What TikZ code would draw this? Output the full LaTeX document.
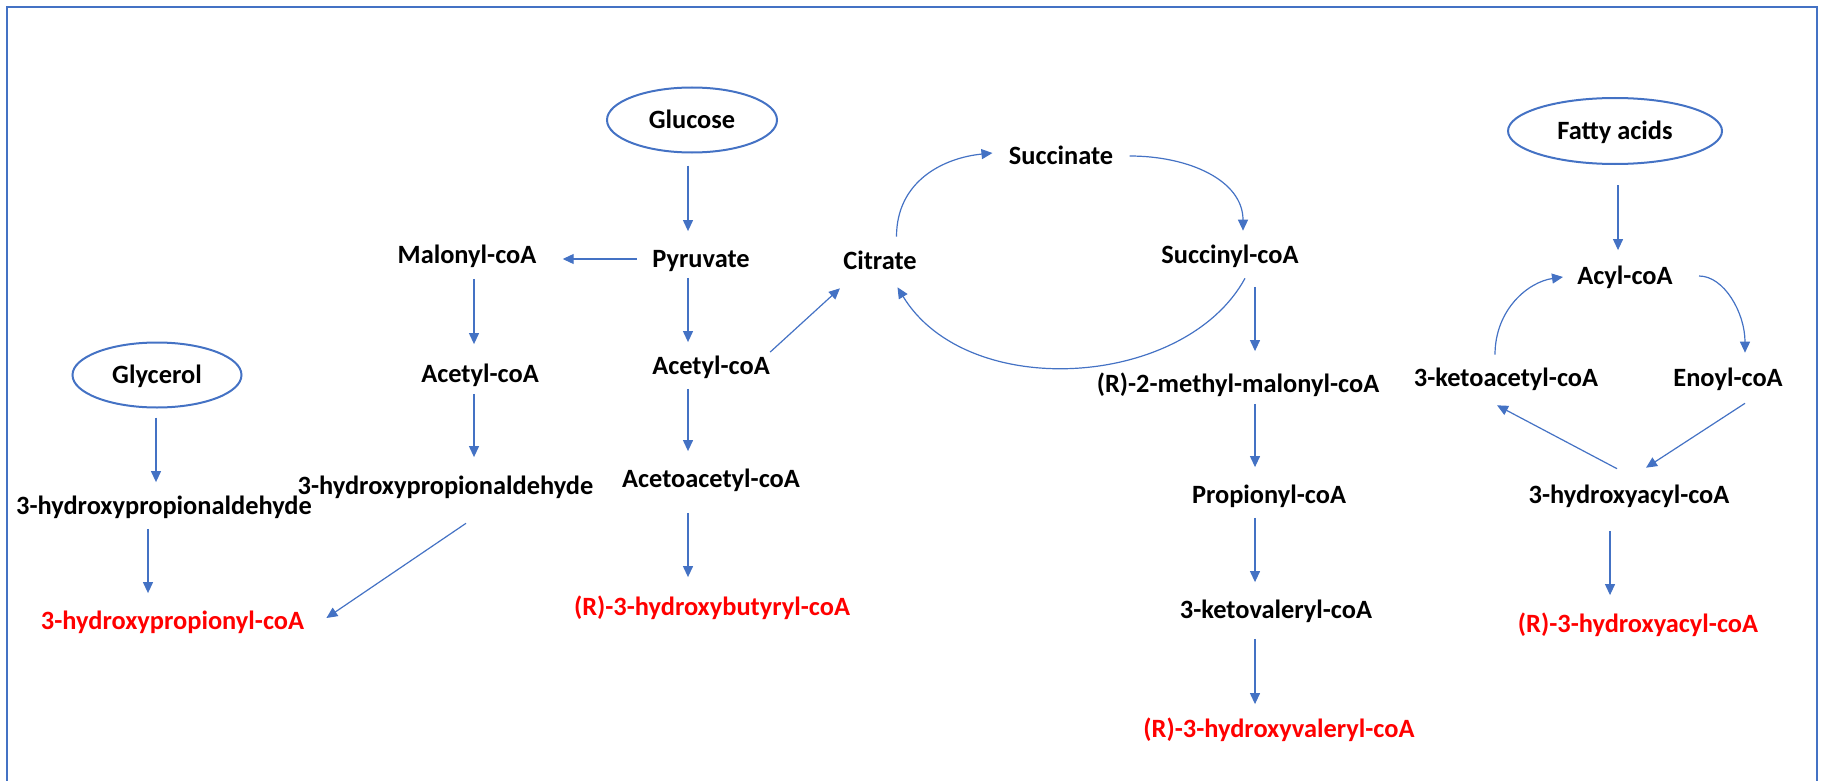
\documentclass[tikz,border=0pt]{standalone}
\usepackage{fontspec}
\setmainfont{Carlito}
\usetikzlibrary{arrows.meta,shapes.geometric,calc}
\definecolor{flowblue}{HTML}{4472C4}
\definecolor{prodred}{HTML}{FF0000}
\tikzset{
  metab/.style={font=\bfseries\fontsize{13.2}{16}\selectfont, inner sep=0pt, text height=11pt, text depth=2.5pt},
  product/.style={metab, text=prodred},
  source/.style={metab, ellipse, draw=flowblue, line width=1pt},
  flow/.style={draw=flowblue, line width=0.6pt, -{Triangle[length=5.5pt,width=5pt]}},
  vflow/.style={flow, shorten <=4.5pt, shorten >=7pt},
}
\begin{document}
\begin{tikzpicture}[x=0.5pt,y=0.5pt,yscale=-1,xscale=1]
\useasboundingbox (0,0) rectangle (1825,781);
%Frame
\draw [flowblue, line width=1pt] (7,800) -- (7,7) -- (1817,7) -- (1817,800);

%Columns of the vertical arrows
\coordinate (colA) at (688,0);
\coordinate (colB) at (474,0);
\coordinate (colG) at (156,0);
\coordinate (colH) at (148,0);
\coordinate (colR) at (1255,0);
\coordinate (colF) at (1618,0);
\coordinate (colK) at (1610,0);

%Shape: Ellipse
\node [source, minimum width=85pt, minimum height=32.5pt] (glucose) at (692,120) {Glucose};
\node [source, minimum width=84.5pt, minimum height=32.5pt] (glycerol) at (157,375) {Glycerol};
\node [source, minimum width=107pt, minimum height=33pt] (fatty) at (1615,131) {Fatty acids};

% Text Node
\node [metab] (pyruvate) at (701,259) {Pyruvate};
\node [metab] (malonyl) at (467,255) {Malonyl-coA};
\node [metab] (acetylL) at (480,374) {Acetyl-coA};
\node [metab] (aldM) at (445.5,486) {3-hydroxypropionaldehyde};
\node [metab] (aldL) at (164,506) {3-hydroxypropionaldehyde};
\node [product] (hpcoa) at (172.5,621) {3-hydroxypropionyl-coA};
\node [metab] (acetylM) at (711,366) {Acetyl-coA};
\node [metab] (acetoacetyl) at (711,479) {Acetoacetyl-coA};
\node [product] (hbcoa) at (712,607) {(R)-3-hydroxybutyryl-coA};
\node [metab] (citrate) at (880,261) {Citrate};
\node [metab] (succinate) at (1061,156) {Succinate};
\node [metab] (succinyl) at (1230,255) {Succinyl-coA};
\node [metab] (methylmal) at (1238,384) {(R)-2-methyl-malonyl-coA};
\node [metab] (propionyl) at (1269,495) {Propionyl-coA};
\node [metab] (ketoval) at (1276,610) {3-ketovaleryl-coA};
\node [product] (hvcoa) at (1279,729) {(R)-3-hydroxyvaleryl-coA};
\node [metab] (acyl) at (1625,276) {Acyl-coA};
\node [metab] (enoyl) at (1728,378) {Enoyl-coA};
\node [metab] (ketoacetyl) at (1506,378) {3-ketoacetyl-coA};
\node [metab] (hacyl) at (1629,495) {3-hydroxyacyl-coA};
\node [product] (rhacyl) at (1638,624) {(R)-3-hydroxyacyl-coA};

%Straight Lines
\draw [vflow, shorten <=6pt] (glucose.south -| colA) -- (pyruvate.north -| colA);
\draw [vflow, shorten <=2.5pt, shorten >=5pt] (pyruvate.south -| colA) -- (acetylM.north -| colA);
\draw [vflow] (acetylM.south -| colA) -- (acetoacetyl.north -| colA);
\draw [vflow, shorten <=10pt, shorten >=8pt] (acetoacetyl.south -| colA) -- (hbcoa.north -| colA);
\draw [flow, shorten <=7.5pt, shorten >=13pt] (pyruvate.west) -- (pyruvate.west -| malonyl.east);
\draw [vflow, shorten <=5pt, shorten >=8pt] (malonyl.south -| colB) -- (acetylL.north -| colB);
\draw [vflow, shorten <=3pt, shorten >=7.5pt] (acetylL.south -| colB) -- (aldM.north -| colB);
\draw [flow] ($(aldM.south)+(20.5,23.4)$) -- ($(hpcoa.east)+(22,-3)$);
\draw [vflow, shorten >=5pt] (glycerol.south -| colG) -- (aldL.north -| colG);
\draw [vflow] (aldL.south -| colH) -- (hpcoa.north -| colH);
\draw [flow] (acetylM.north east) -- ($(citrate.south west)+(-3,13.4)$);
\draw [vflow, shorten <=9pt, shorten >=9.5pt] (succinyl.south -| colR) -- (methylmal.north -| colR);
\draw [vflow, shorten <=3pt] (methylmal.south -| colR) -- (propionyl.north -| colR);
\draw [vflow] (propionyl.south -| colR) -- (ketoval.north -| colR);
\draw [vflow, shorten <=7.5pt, shorten >=5.5pt] (ketoval.south -| colR) -- (hvcoa.north -| colR);
\draw [vflow, shorten <=10pt, shorten >=6pt] (fatty.south -| colF) -- (acyl.north -| colF);
\draw [flow] ($(enoyl.south)+(17,11.4)$) -- ($(hacyl.north)+(17,-13.4)$);
\draw [flow] ($(hacyl.north)+(-12,-12.4)$) -- ($(ketoacetyl.south)+(-9,13.4)$);
\draw [vflow, shorten <=11pt, shorten >=7.5pt] (hacyl.south -| colK) -- (rhacyl.north -| colK);

%Curve Lines
\draw [flow] ($(citrate.north)+(16.5,-10.4)$) .. controls +(0,-55) and +(-50,5) .. ($(succinate.west)+(-16,-3)$);
\draw [flow] ($(succinate.east)+(16,0)$) .. controls +(60,0) and +(0,-50) .. ($(succinyl.north)+(13,-10.4)$);
\draw [flow] ($(succinyl.south)+(15,9.4)$) .. controls +(-60,110) and +(70,115) .. ($(citrate.south)+(17.5,12.4)$);
\draw [flow] ($(ketoacetyl.north)+(-11,-9.4)$) .. controls +(0,-45) and +(-35,5) .. ($(acyl.west)+(-14,1)$);
\draw [flow] ($(acyl.east)+(26,0)$) .. controls +(25,0) and +(0,-40) .. ($(enoyl.north)+(17,-11.4)$);

\end{tikzpicture}
\end{document}
